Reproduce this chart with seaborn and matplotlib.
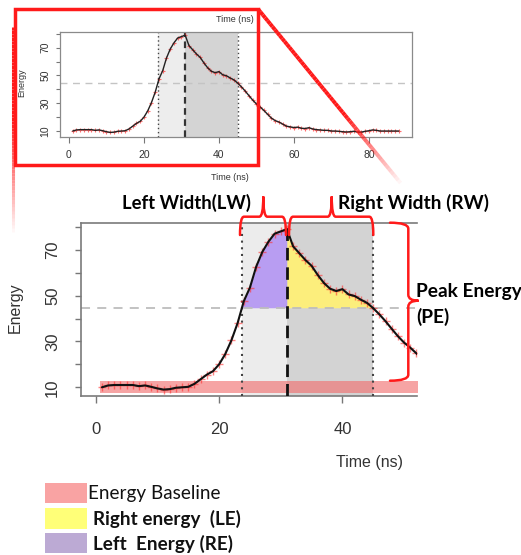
import numpy as np
import pandas as pd
import seaborn as sns
import matplotlib.pyplot as plt
from matplotlib.path import Path
from matplotlib.patches import PathPatch, Rectangle
from matplotlib.collections import LineCollection

# ---------------- data ----------------
time_ns = list(range(1, 89))
energy = [10.0, 10.8, 11.0, 11.0, 11.0, 11.0, 10.5, 10.8, 10.2, 9.5,
          9.0, 9.2, 9.8, 10.0, 10.2, 11.5, 13.5, 15.5, 17.0, 20.0,
          24.5, 30.5, 38.0, 47.5, 53.5, 62.5, 69.0, 73.5, 77.0, 78.0,
          79.0, 71.5, 68.5, 65.5, 63.0, 59.0, 55.5, 53.0, 52.0, 52.8,
          50.5, 49.8, 48.2, 46.8, 44.5, 41.8, 38.8, 35.5, 32.3, 29.5,
          27.3, 24.8, 22.0, 19.3, 17.5, 16.5, 15.0, 13.5, 13.0, 12.5,
          12.8, 12.0, 11.8, 12.4, 11.5, 11.0, 10.8, 10.5, 10.5, 10.0,
          10.0, 9.8, 9.5, 9.3, 9.5, 9.8, 9.3, 9.2, 9.8, 10.2,
          10.8, 10.5, 10.0, 10.0, 10.0, 10.0, 10.0, 10.0]
LEFT_T = 23.65      # left width boundary
PEAK_T = 31.0       # peak time
RIGHT_T = 45.0      # right width boundary
THRESHOLD = 44.7    # half-peak energy level
BASE_START = 0.65   # baseline band start
BASE_LOW, BASE_HIGH = 7.4, 12.9

top_xticks = [0, 20, 40, 60, 80]
main_xticks = [0, 20, 40]
yticks_all = [10, 20, 30, 40, 50, 60, 70, 80]
ytick_labels = ["10", "", "30", "", "50", "", "70", ""]

legend_labels = ["Energy Baseline", "Right energy  (LE)", "Left  Energy (RE)"]
legend_colors = ["#f9a3a3", "#ffff78", "#bcaad4"]
legend_bold = [False, True, True]

df = pd.DataFrame({"time": time_ns, "energy": energy})

# ---------------- figure ----------------
sns.set_style("white")
plt.rcParams["font.family"] = ["Liberation Sans", "DejaVu Sans"]

W, H = 521, 555
fig = plt.figure(figsize=(W / 100, H / 100), dpi=100)


def frac_rect(l, t, r, b):
    return [l / W, 1 - b / H, (r - l) / W, (b - t) / H]


AXC = "#777777"
TXC = "#333333"

# ---------- top (overview) plot ----------
ax_top = fig.add_axes(frac_rect(60, 32, 412, 137))
ax_top.set_xlim(-2.4, 91.5)
ax_top.set_ylim(5.7, 81.3)
ax_top.axvspan(LEFT_T, PEAK_T, color="#ededed", lw=0, zorder=0)
ax_top.axvspan(PEAK_T, RIGHT_T, color="#d4d4d4", lw=0, zorder=0)
ax_top.axhline(THRESHOLD, color="#c4c4c4", ls=(0, (5, 4)), lw=1.0, zorder=1)
ax_top.axvline(LEFT_T, color="#444444", ls=(0, (1, 2)), lw=1.0, zorder=2)
ax_top.axvline(RIGHT_T, color="#444444", ls=(0, (1, 2)), lw=1.0, zorder=2)
ax_top.axvline(PEAK_T, color="#333333", ls=(0, (3, 2)), lw=1.6, zorder=2)
sns.scatterplot(data=df, x="time", y="energy", ax=ax_top, marker="+",
                color="#ff3030", s=10, linewidth=0.8, alpha=0.7, zorder=3,
                legend=False)
sns.lineplot(data=df, x="time", y="energy", ax=ax_top, color="#222222",
             lw=1.0, zorder=4, legend=False)
ax_top.set_xticks(top_xticks)
ax_top.set_xticklabels([str(v) for v in top_xticks])
ax_top.set_yticks(yticks_all)
ax_top.set_yticklabels(ytick_labels, rotation=90, va="center")
ax_top.tick_params(axis="x", length=4, width=0.8, color=AXC, labelsize=7.5,
                   labelcolor=TXC, pad=5, bottom=True)
ax_top.tick_params(axis="y", length=3, width=0.8, color=AXC, labelsize=7.5,
                   labelcolor=TXC, pad=4, left=True)
ax_top.set_xlabel("")
ax_top.set_ylabel("")
for s in ax_top.spines.values():
    s.set_color("#8a8a8a")
    s.set_linewidth(0.9)

# ---------- main (zoomed) plot ----------
ax = fig.add_axes(frac_rect(81, 222.7, 417, 396))
ax.set_xlim(-2.4, 52.1)
ax.set_ylim(6.2, 81.8)
ax.axvspan(LEFT_T, PEAK_T, color="#ececec", lw=0, zorder=0)
ax.axvspan(PEAK_T, RIGHT_T, color="#d3d3d3", lw=0, zorder=0)

t_arr = np.array(time_ns, dtype=float)
e_arr = np.array(energy, dtype=float)
tl = np.linspace(LEFT_T, PEAK_T, 200)
ax.fill_between(tl, THRESHOLD, np.interp(tl, t_arr, e_arr),
                color="#b89df2", lw=0, zorder=1)
tr = np.linspace(PEAK_T, RIGHT_T, 300)
ax.fill_between(tr, THRESHOLD, np.interp(tr, t_arr, e_arr),
                color="#fcee7c", lw=0, zorder=1)

ax.fill_between([BASE_START, 60], BASE_LOW, BASE_HIGH, color="#f26c6c",
                alpha=0.62, lw=0, zorder=2)
ax.axhline(THRESHOLD, color="#bdbdbd", ls=(0, (5, 4)), lw=1.3, zorder=2)
ax.axvline(LEFT_T, color="#444444", ls=(0, (1, 2.2)), lw=1.5, zorder=3)
ax.axvline(RIGHT_T, color="#444444", ls=(0, (1, 2.2)), lw=1.5, zorder=3)
ax.axvline(PEAK_T, color="#111111", ls=(0, (4.5, 2.5)), lw=2.0, zorder=3)
sns.scatterplot(data=df, x="time", y="energy", ax=ax, marker="+",
                color="#ff3030", s=30, linewidth=1.0, alpha=0.6, zorder=4,
                legend=False)
sns.lineplot(data=df, x="time", y="energy", ax=ax, color="#111111",
             lw=1.5, zorder=5, legend=False)
ax.set_xticks(main_xticks)
ax.set_xticklabels([str(v) for v in main_xticks])
ax.set_yticks(yticks_all)
ax.set_yticklabels(ytick_labels, rotation=90, va="center")
ax.tick_params(axis="x", length=5, width=1, color=AXC, labelsize=12,
               labelcolor=TXC, pad=14, bottom=True)
ax.tick_params(axis="y", length=4, width=1, color=AXC, labelsize=12,
               labelcolor=TXC, pad=11, left=True)
ax.set_xlabel("")
ax.set_ylabel("")
ax.spines["right"].set_visible(False)
for k in ["left", "top", "bottom"]:
    ax.spines[k].set_color("#7a7a7a")
    ax.spines[k].set_linewidth(1.2)

# ---------- overlay (annotations) ----------
ov = fig.add_axes([0, 0, 1, 1], zorder=10)
ov.set_xlim(0, W)
ov.set_ylim(H, 0)
ov.axis("off")
ov.patch.set_alpha(0)

# axis labels
ov.text(235, 20, "Time (ns)", fontsize=6.5, ha="center", va="center", color=TXC)
ov.text(230, 178, "Time (ns)", fontsize=6.5, ha="center", va="center", color=TXC)
ov.text(21.7, 83, "Energy", fontsize=6.5, ha="center", va="center",
        rotation=90, color=TXC)
ov.text(15, 308, "Energy", fontsize=11.5, ha="center", va="center",
        rotation=90, color=TXC)
ov.text(370, 463, "Time (ns)", fontsize=11.5, ha="center", va="center", color=TXC)

RED = "#ff1a1a"
# zoom rectangle
ov.add_patch(Rectangle((15, 9), 243, 156, fill=False, edgecolor=RED, lw=2.5))


def fading_line(x0, y0, x1, y1, lw, solid_frac=0.55, n=60):
    xs = np.linspace(x0, x1, n + 1)
    ys = np.linspace(y0, y1, n + 1)
    segs = [[(xs[i], ys[i]), (xs[i + 1], ys[i + 1])] for i in range(n)]
    f = np.linspace(0, 1, n)
    alphas = np.where(f < solid_frac, 1.0, 1.0 - (f - solid_frac) / (1 - solid_frac))
    cols = [(1.0, 0.1, 0.1, a) for a in alphas]
    ov.add_collection(LineCollection(segs, colors=cols, linewidths=lw,
                                     capstyle="butt"))


fading_line(258, 9, 403, 186, 2.8, solid_frac=0.6)
fading_line(12.5, 27, 12.5, 235, 2.2, solid_frac=0.45)


def hbrace(x0, x1, xm, y_end, y_body, y_tip, r=4):
    verts = [(x0, y_end), (x0, y_body), (x0 + r, y_body),
             (xm - r, y_body), (xm, y_body), (xm, y_tip),
             (xm, y_body), (xm + r, y_body),
             (x1 - r, y_body), (x1, y_body), (x1, y_end)]
    codes = [Path.MOVETO, Path.CURVE3, Path.CURVE3,
             Path.LINETO, Path.CURVE3, Path.CURVE3,
             Path.CURVE3, Path.CURVE3,
             Path.LINETO, Path.CURVE3, Path.CURVE3]
    ov.add_patch(PathPatch(Path(verts, codes), fill=False, edgecolor=RED,
                           lw=1.8, capstyle="round"))


def vbrace(y0, y1, ym, x_end, x_body, x_tip, r=5):
    verts = [(x_end, y0), (x_body, y0), (x_body, y0 + r),
             (x_body, ym - r), (x_body, ym), (x_tip, ym),
             (x_body, ym), (x_body, ym + r),
             (x_body, y1 - r), (x_body, y1), (x_end, y1)]
    codes = [Path.MOVETO, Path.CURVE3, Path.CURVE3,
             Path.LINETO, Path.CURVE3, Path.CURVE3,
             Path.CURVE3, Path.CURVE3,
             Path.LINETO, Path.CURVE3, Path.CURVE3]
    ov.add_patch(PathPatch(Path(verts, codes), fill=False, edgecolor=RED,
                           lw=1.8, capstyle="round"))


hbrace(240, 286, 263.3, 235, 216.7, 196.5)
hbrace(289, 373.3, 331.7, 235, 216.7, 196.5)
vbrace(222.7, 380.7, 300.7, 390, 408.3, 418.5, r=6)

BF = ["Lato", "DejaVu Sans"]
ov.text(186.7, 203, "Left Width(LW)", fontsize=13.3, fontweight="bold",
        family=BF, ha="center", va="center", color="black")
ov.text(338, 203, "Right Width (RW)", fontsize=13.8, fontweight="bold",
        family=BF, ha="left", va="center", color="black")
ov.text(416, 292, "Peak Energy", fontsize=13.8, fontweight="bold",
        family=BF, ha="left", va="center", color="black")
ov.text(416, 317, "(PE)", fontsize=13.8, fontweight="bold",
        family=BF, ha="left", va="center", color="black")

# legend
leg_y = [482.7, 508.3, 532.7]
for yy, lab, col, bold in zip(leg_y, legend_labels, legend_colors, legend_bold):
    ov.add_patch(Rectangle((45, yy), 41.7, 20.6, facecolor=col,
                           edgecolor="none"))
    ov.text(88 if not bold else 92.7, yy + 10.8, lab, fontsize=13.6,
            fontweight="bold" if bold else "normal", family=BF,
            ha="left", va="center", color="#111111")

fig.savefig("out.png", dpi=100)
